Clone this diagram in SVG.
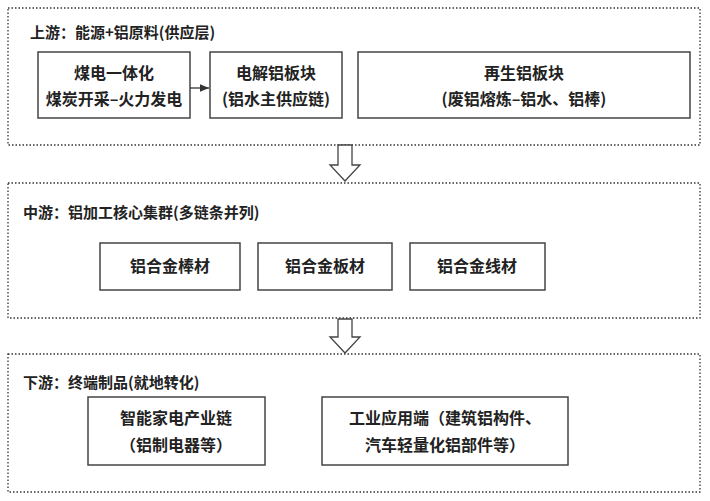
<svg xmlns="http://www.w3.org/2000/svg" width="710" height="501" viewBox="0 0 710 501">
<style>
.frame{fill:none;stroke:#333;stroke-width:1.3;stroke-dasharray:1.5 2}
.box{fill:#fff;stroke:#444;stroke-width:1.5}
text{font-family:"Noto Sans CJK SC","Noto Sans",sans-serif;fill:#222;font-size:16px}
.b{font-weight:bold;text-anchor:middle}
.t{font-weight:bold;font-size:15px}
.h{fill:#fff;stroke:#444;stroke-width:1.3}
</style>
<defs><marker id="a" markerWidth="8" markerHeight="8" refX="7" refY="4" orient="auto"><path d="M0,1 L7,4 L0,7 Z" fill="#333"/></marker></defs>
<rect width="710" height="501" fill="#fff"/>
<g id="upstream">
<rect class="frame" x="8" y="8" width="692" height="137"/>
<text class="t" x="30" y="38">上游：能源+铝原料(供应层)</text>
</g>
<g id="n1"><rect class="box" x="38" y="52" width="152" height="66"/><text class="b" x="114" y="79">煤电一体化</text><text class="b" x="114" y="105">煤炭开采–火力发电</text></g>
<g id="n2"><rect class="box" x="210" y="52" width="132" height="66"/><text class="b" x="276" y="79">电解铝板块</text><text class="b" x="276" y="105">(铝水主供应链)</text></g>
<g id="n3"><rect class="box" x="358" y="52" width="332" height="66"/><text class="b" x="524" y="79">再生铝板块</text><text class="b" x="524" y="105">(废铝熔炼–铝水、铝棒)</text></g>
<g id="midstream">
<rect class="frame" x="8" y="183" width="692" height="135"/>
<text class="t" x="23" y="218">中游：铝加工核心集群(多链条并列)</text>
</g>
<g id="m1"><rect class="box" x="100" y="243" width="140" height="47"/><text class="b" x="170" y="272">铝合金棒材</text></g>
<g id="m2"><rect class="box" x="258" y="243" width="134" height="47"/><text class="b" x="325" y="272">铝合金板材</text></g>
<g id="m3"><rect class="box" x="410" y="243" width="135" height="47"/><text class="b" x="477" y="272">铝合金线材</text></g>
<g id="downstream">
<rect class="frame" x="8" y="354" width="692" height="138"/>
<text class="t" x="23" y="388">下游：终端制品(就地转化)</text>
</g>
<g id="d1"><rect class="box" x="88" y="397" width="177" height="68"/><text class="b" x="176" y="424">智能家电产业链</text><text class="b" x="176" y="451">（铝制电器等）</text></g>
<g id="d2"><rect class="box" x="322" y="397" width="246" height="68"/><text class="b" x="445" y="424">工业应用端（建筑铝构件、</text><text class="b" x="445" y="451">汽车轻量化铝部件等）</text></g>
<g id="connectors">
<line x1="190" y1="88" x2="209" y2="88" stroke="#333" stroke-width="1.3" marker-end="url(#a)"/>
<path class="h" d="M338,145 H352 V165 H360 L345,181 L330,165 H338 Z"/>
<path class="h" d="M338,319 H352 V337 H360 L345,353 L330,337 H338 Z"/>
</g>
</svg>
